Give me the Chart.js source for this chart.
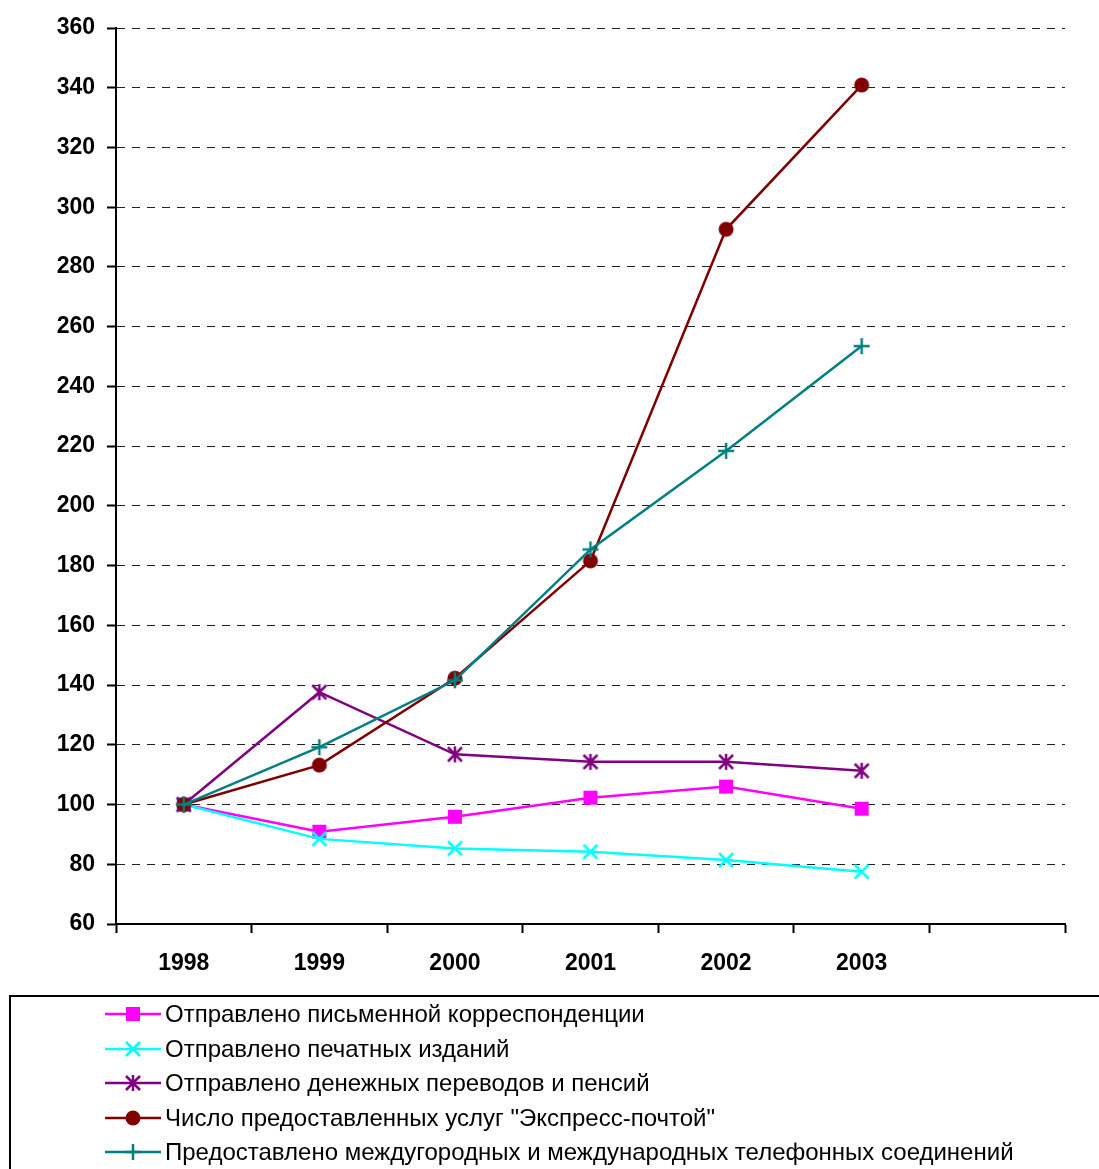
<!DOCTYPE html>
<html>
<head>
<meta charset="utf-8">
<script src="https://cdn.jsdelivr.net/npm/chart.js@4"></script>
<style>
  html, body { margin: 0; padding: 0; background: #fff; overflow: hidden; }
  #wrap { position: relative; width: 1099px; height: 1169px; }
  #chart { position: absolute; left: 0; top: 0; }
  #legend {
    position: absolute; left: 9px; top: 995px; width: 1200px; height: 300px;
    border: 2px solid #000; box-sizing: border-box;
    font-family: "Liberation Sans", Arial, sans-serif; font-size: 24px; color: #000;
  }
  .row { display: flex; align-items: center; height: 34.5px; padding-left: 94px; }
  .row canvas { margin-right: 4px; }
</style>
</head>
<body>
<div id="wrap">
  <canvas id="chart" width="1099" height="995"></canvas>
  <div id="legend"></div>
</div>
<script>
const years = ['1998', '1999', '2000', '2001', '2002', '2003', ''];
const letters = [100, 90.9, 95.9, 102.3, 106.0, 98.6];
const printed = [100, 88.5, 85.3, 84.2, 81.4, 77.5];
const money = [100, 137.6, 116.8, 114.3, 114.3, 111.3];
const express = [100, 113.2, 142.3, 181.6, 292.6, 340.9];
const phone = [100, 119.2, 141.6, 185.4, 218.4, 253.5];

const names = [
  'Отправлено письменной корреспонденции',
  'Отправлено печатных изданий',
  'Отправлено денежных переводов и пенсий',
  'Число предоставленных услуг "Экспресс-почтой"',
  'Предоставлено междугородных и международных телефонных соединений'
];
const colors = ['#FF00FF', '#00FFFF', '#800080', '#800000', '#008080'];
const markers = ['square', 'x', 'star', 'circle', 'plus'];
const series = [letters, printed, money, express, phone];

function drawMarker(ctx, kind, color, cx, cy) {
  ctx.save();
  ctx.fillStyle = color;
  ctx.strokeStyle = color;
  ctx.lineWidth = 2.5;
  ctx.beginPath();
  if (kind === 'square') {
    ctx.fillRect(cx - 7, cy - 7, 14, 14);
  } else if (kind === 'circle') {
    ctx.arc(cx, cy, 7.5, 0, Math.PI * 2);
    ctx.fill();
  } else if (kind === 'x') {
    ctx.moveTo(cx - 7, cy - 7); ctx.lineTo(cx + 7, cy + 7);
    ctx.moveTo(cx + 7, cy - 7); ctx.lineTo(cx - 7, cy + 7);
    ctx.stroke();
  } else if (kind === 'star') {
    ctx.moveTo(cx - 7, cy - 7); ctx.lineTo(cx + 7, cy + 7);
    ctx.moveTo(cx + 7, cy - 7); ctx.lineTo(cx - 7, cy + 7);
    ctx.moveTo(cx, cy - 8); ctx.lineTo(cx, cy + 8);
    ctx.stroke();
  } else if (kind === 'plus') {
    ctx.moveTo(cx, cy - 8); ctx.lineTo(cx, cy + 8);
    ctx.moveTo(cx - 8, cy); ctx.lineTo(cx + 8, cy);
    ctx.stroke();
  }
  ctx.restore();
}

function markerImage(kind, color) {
  const c = document.createElement('canvas');
  c.width = 22; c.height = 22;
  drawMarker(c.getContext('2d'), kind, color, 11, 11);
  return c;
}

const datasets = series.map((vals, i) => ({
  label: names[i],
  data: vals,
  borderColor: colors[i],
  backgroundColor: colors[i],
  borderWidth: 2.5,
  pointStyle: markerImage(markers[i], colors[i]),
  pointRadius: 8,
  tension: 0,
  order: 5 - i
}));

// legend
const legend = document.getElementById('legend');
names.forEach((name, i) => {
  const row = document.createElement('div');
  row.className = 'row';
  const icon = document.createElement('canvas');
  icon.width = 56; icon.height = 22;
  const ic = icon.getContext('2d');
  ic.strokeStyle = colors[i];
  ic.lineWidth = 2.5;
  ic.beginPath(); ic.moveTo(0, 11); ic.lineTo(56, 11); ic.stroke();
  drawMarker(ic, markers[i], colors[i], 28, 11);
  const txt = document.createElement('span');
  txt.textContent = name;
  row.appendChild(icon);
  row.appendChild(txt);
  legend.appendChild(row);
});

const tickFont = { family: '"Liberation Sans", Arial, sans-serif', size: 23, weight: 'bold' };

new Chart(document.getElementById('chart'), {
  type: 'line',
  data: { labels: years, datasets: datasets },
  options: {
    responsive: false,
    animation: false,
    devicePixelRatio: 1,
    layout: { padding: { top: 28, right: 34, left: 0, bottom: 0 } },
    plugins: { legend: { display: false }, tooltip: { enabled: false } },
    scales: {
      x: {
        offset: true,
        grid: { offset: true, drawOnChartArea: false, tickLength: 9, tickColor: '#000', tickWidth: 2 },
        border: { color: '#000', width: 2 },
        ticks: { color: '#000', font: tickFont, padding: 17, maxRotation: 0 },
        afterFit: s => { s.height = 71; }
      },
      y: {
        min: 60,
        max: 360,
        ticks: { stepSize: 20, color: '#000', font: tickFont, padding: 12 },
        grid: {
          color: '#222', lineWidth: 1,
          tickLength: 9, tickColor: '#000', tickWidth: 2, tickBorderDash: [1, 0]
        },
        border: { color: '#000', width: 2, dash: [8, 7] },
        afterFit: s => { s.width = 116; }
      }
    }
  }
});
</script>
</body>
</html>
